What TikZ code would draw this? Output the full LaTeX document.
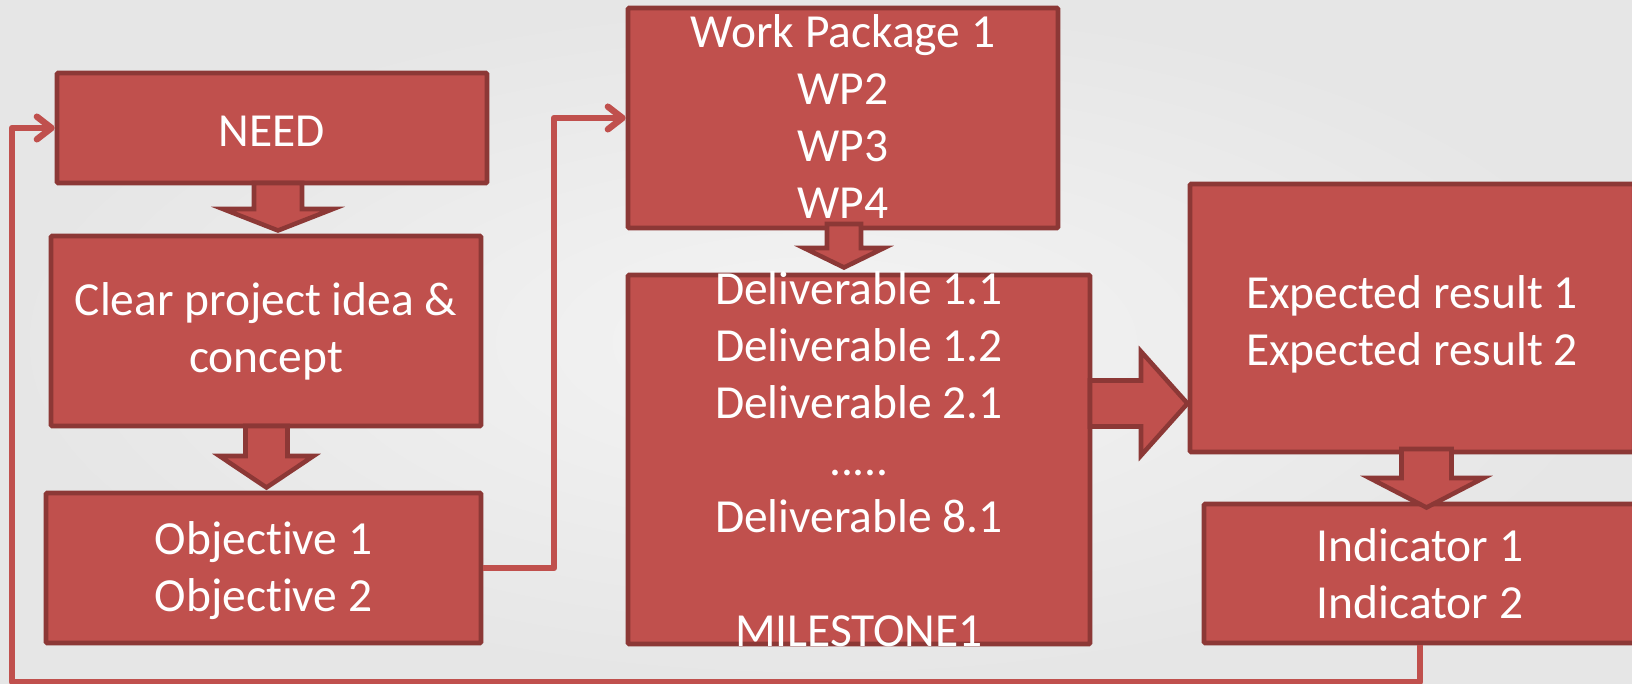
\documentclass[tikz,border=0pt]{standalone}
\usepackage{fontspec}
\setmainfont{Carlito}[Ligatures={NoCommon,NoContextual}]
\usetikzlibrary{arrows.meta,shadows}
\definecolor{bgin}{RGB}{244,244,244}
\definecolor{bgout}{RGB}{230,230,230}
\definecolor{boxred}{HTML}{C0504D}
\definecolor{boxedge}{HTML}{8C3836}
\tikzset{
  box/.style={draw=boxedge, fill=boxred, line width=3.4pt, inner sep=0pt, rounded corners=0.8pt,
    drop shadow={opacity=0.18, shadow xshift=1.5pt, shadow yshift=-1.5pt}},
  txt/.style={text=white, align=center, inner sep=0pt, font=\fontsize{35.6}{42.75}\selectfont},
  barrow/.style={draw=boxedge, fill=boxred, line width=3.4pt, line join=miter},
  conn/.style={draw=boxred, line width=4.8pt, line join=round,
    -{Straight Barb[length=11pt, width=17pt, round]}},
}
\begin{document}
\begin{tikzpicture}[x=0.75pt,y=-0.75pt]
\useasboundingbox (0,0) rectangle (1632,684);
\clip (0,0) rectangle (1632,684);
\shade[inner color=bgin, outer color=bgout] (0,0) rectangle (1632,684);

% boxes
\node[box, minimum width=322.5pt, minimum height=82.5pt]   (need)  at (272,128)   {};
\node[box, minimum width=322.5pt, minimum height=142.5pt]  (idea)  at (266,331)   {};
\node[box, minimum width=326.25pt, minimum height=112.5pt] (obj)   at (263.5,568) {};
\node[box, minimum width=322.5pt, minimum height=165pt]    (wp)    at (843,118)   {};
\node[box, minimum width=346.5pt, minimum height=276.75pt] (deliv) at (859,459.5) {};
\node[box, minimum width=333pt, minimum height=201pt]      (exp)   at (1412,318)  {};
\node[box, minimum width=324pt, minimum height=104.25pt]   (ind)   at (1420,573.5) {};

% block arrows
\draw[barrow] (254,183) -- (254,209) -- (223,209) -- (278,230.5) -- (333,209) -- (302,209) -- (302,183) -- cycle;
\draw[barrow] (245.5,426) -- (245.5,456) -- (219.5,456) -- (266.5,487.5) -- (313.5,456) -- (287.5,456) -- (287.5,426) -- cycle;
\draw[barrow] (827,224) -- (827,248) -- (804,248) -- (844,267.5) -- (884,248) -- (861,248) -- (861,224) -- cycle;
\draw[barrow] (1090,380.5) -- (1141,380.5) -- (1141,351.5) -- (1187.5,403.5) -- (1141,455.5) -- (1141,426.5) -- (1090,426.5) -- cycle;
\draw[barrow] (1401.5,449) -- (1401.5,478) -- (1369.5,478) -- (1426.5,507.5) -- (1483.5,478) -- (1451.5,478) -- (1451.5,449) -- cycle;

% connectors
\draw[conn] (obj.east) -- (554,568) -- (554,118) -- (wp.west);
\draw[conn] (ind.south) -- (1420,682) -- (12,682) -- (12,128) -- (need.west);

% texts
\node[txt] (needT)  at ([yshift=-2.5pt]need.center)  {NEED};
\node[txt] (ideaT)  at (idea.center)  {Clear project idea \&\\concept};
\node[txt] (objT)   at ([yshift=-2pt]obj.center)   {Object\kern0pt ive 1\\Object\kern0pt ive 2};
\node[txt] (wpT)    at ([yshift=1pt]wp.center)    {Work Package 1\\WP2\\WP3\\WP4};
\node[txt] (delivT) at (deliv.center) {Deliverable 1.1\\Deliverable 1.2\\Deliverable 2.1\\.....\\Deliverable 8.1\\~\\MILESTONE1};
\node[txt] (expT)   at ([yshift=-5pt]exp.center)   {Expected result 1\\Expected result 2};
\node[txt] (indT)   at (ind.center)   {Indicator 1\\Indicator 2};
\end{tikzpicture}
\end{document}
